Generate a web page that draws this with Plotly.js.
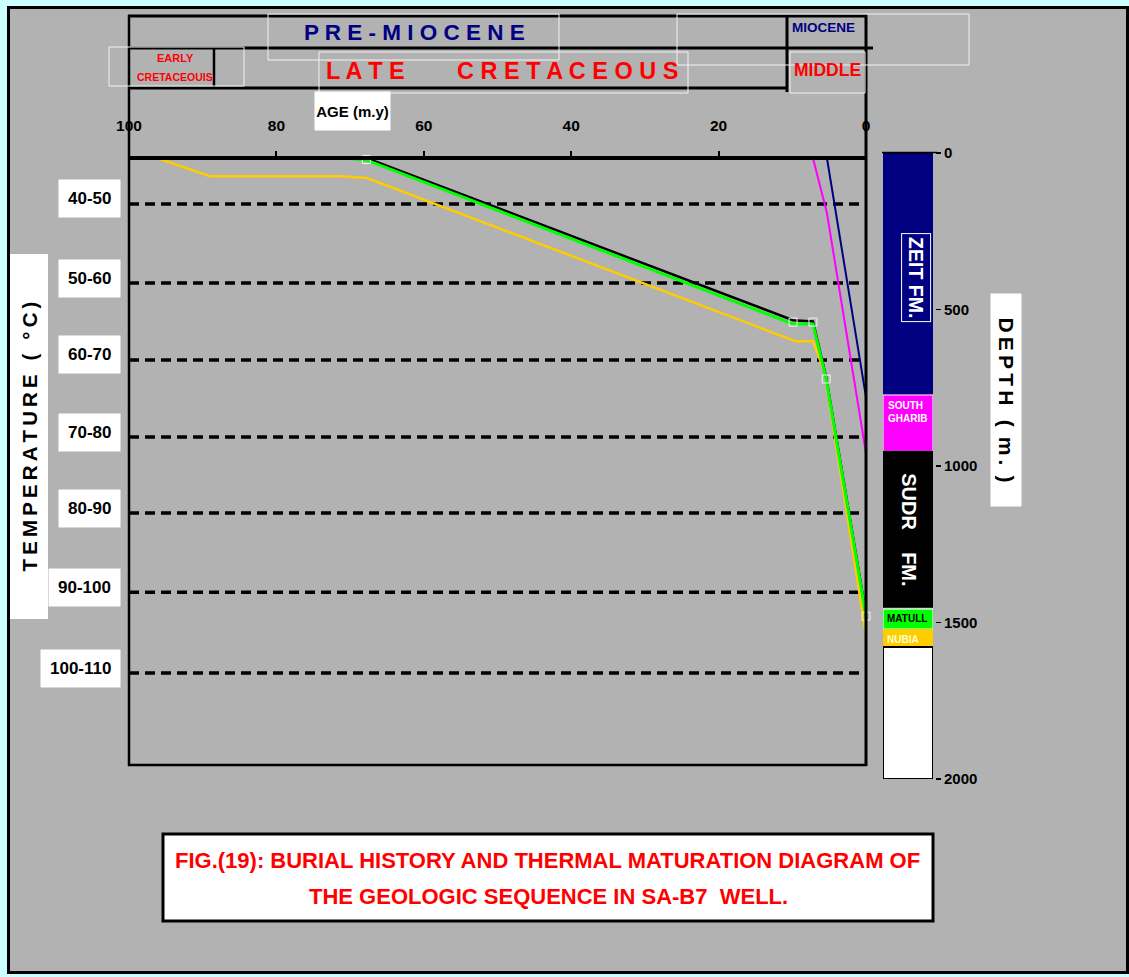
<!DOCTYPE html>
<html>
<head>
<meta charset="utf-8">
<script src="https://cdn.plot.ly/plotly-3.0.1.min.js"></script>
<style>html,body{margin:0;padding:0;background:#ccffff;}#chart{width:1129px;height:977px;}</style>
</head>
<body>
<div id="chart"></div>
<script>
// ---------------- DATA ----------------
const AGE_TICKS = [100, 80, 60, 40, 20, 0];
const DEPTH_TICKS = [0, 500, 1000, 1500, 2000];

// isotherms (depth on burial plot, m) and their temperature labels
const ISO_DEPTHS = [147, 400, 646, 893, 1136, 1389, 1648];
const ISO_LABELS = ['40-50', '50-60', '60-70', '70-80', '80-90', '90-100', '100-110'];

// burial curves: age (m.y) and depth (m)
const NUBIA_AGE   = [96.2, 89.0, 71.1, 67.7, 9.6, 7.2, 5.6, 0];
const NUBIA_DEPTH = [0, 58, 58, 64, 586, 586, 685, 1526];
const MATULL_AGE   = [71.0, 67.8, 9.9, 7.2, 5.4, 0];
const MATULL_DEPTH = [0, 6, 531, 531, 707, 1466];
const SUDR_AGE   = [67.8, 9.9, 7.2, 5.4, 0];
const SUDR_DEPTH = [0, 519, 523, 702, 1460];
const SGHARIB_AGE   = [7.2, 5.3, 0];
const SGHARIB_DEPTH = [0, 176, 944];
const ZEIT_AGE   = [5.3, 0];
const ZEIT_DEPTH = [0, 765];
// control points (markers)
const PT_AGE   = [67.8, 9.9, 7.2, 5.4, 0];
const PT_DEPTH = [5, 525, 525, 707, 1466];

// formation column (depth m)
const FM_NAMES  = ['ZEIT FM.', 'SOUTH<br>GHARIB', 'SUDR    FM.', 'MATULL', 'NUBIA', ''];
const FM_TOP    = [0, 773, 953, 1457, 1521, 1578];
const FM_BOTTOM = [773, 953, 1451, 1521, 1578, 2000];
const FM_COLORS = ['#000080', '#ff00ff', '#000000', '#00ff00', '#ffcc00', '#ffffff'];

// ---------------- HELPERS ----------------
const W = 1129, H = 977;
const px = x => x / W;
const py = y => 1 - y / H;
const SANS = "'Liberation Sans', Arial, sans-serif";
const bold = (size, color) => ({family: SANS, size: size, color: color || '#000', weight: 'bold'});

// ---------------- TRACES ----------------
const traces = [];
ISO_DEPTHS.forEach(d => traces.push({
  type: 'scatter', mode: 'lines', x: [100, 0], y: [d, d],
  line: {color: '#000', width: 3.5, dash: '10px,6px'}, hoverinfo: 'skip'
}));
traces.push({type: 'scatter', mode: 'lines', x: NUBIA_AGE, y: NUBIA_DEPTH, line: {color: '#ffcc00', width: 2.5}, cliponaxis: false});
traces.push({type: 'scatter', mode: 'lines', x: SUDR_AGE, y: SUDR_DEPTH, line: {color: '#000000', width: 2.5}, cliponaxis: false});
traces.push({type: 'scatter', mode: 'lines', x: MATULL_AGE, y: MATULL_DEPTH, line: {color: '#00ff00', width: 3}, cliponaxis: false});
traces.push({type: 'scatter', mode: 'lines', x: SGHARIB_AGE, y: SGHARIB_DEPTH, line: {color: '#ff00ff', width: 2}, cliponaxis: false});
traces.push({type: 'scatter', mode: 'lines', x: ZEIT_AGE, y: ZEIT_DEPTH, line: {color: '#000080', width: 2}, cliponaxis: false});
traces.push({type: 'scatter', mode: 'markers', x: PT_AGE, y: PT_DEPTH, cliponaxis: false,
  marker: {symbol: 'square-open', size: 8, color: '#f4f4f4', line: {width: 1}}});

// formation column as stacked bars
traces.push({
  type: 'bar', xaxis: 'x2', yaxis: 'y2',
  x: FM_TOP.map(() => 0),
  y: FM_TOP.map((t, i) => FM_BOTTOM[i] - t),
  base: FM_TOP,
  width: FM_TOP.map((t, i) => i === 0 ? 1.1 : 1),
  marker: {color: FM_COLORS,
    line: {color: ['#000', '#fff', '#000', '#fff', '#ffcc00', '#000'], width: [1, 1, 1, 1, 0, 2]}},
  hoverinfo: 'skip'
});

// ---------------- SHAPES ----------------
const hline = (y, x0, x1, w) => ({type: 'line', xref: 'paper', yref: 'paper', x0: px(x0), x1: px(x1), y0: py(y), y1: py(y), line: {color: '#000', width: w}});
const vline = (x, y0, y1, w) => ({type: 'line', xref: 'paper', yref: 'paper', x0: px(x), x1: px(x), y0: py(y0), y1: py(y1), line: {color: '#000', width: w}});
const box = (x0, y0, x1, y1, lc, fill, w) => ({type: 'rect', xref: 'paper', yref: 'paper', x0: px(x0), x1: px(x1), y0: py(y0), y1: py(y1), line: {color: lc, width: w}, fillcolor: fill});

const shapes = [
  Object.assign(box(8.5, 7.5, 1127.5, 972.5, '#000', '#b2b2b2', 3), {layer: 'below'}),
  hline(16, 128, 867, 3), hline(48, 128, 873, 3), hline(88, 128, 788, 3),
  vline(129, 15, 766, 2.5), vline(787, 15, 92, 3), vline(866, 15, 766, 3), vline(214, 47, 87, 2.5),
  hline(158, 128, 867, 4), hline(765, 128, 867, 2.5),
  box(268, 14, 559, 60, '#f2f2f2', 'rgba(0,0,0,0)', 1),
  box(677, 14, 969, 65, '#f2f2f2', 'rgba(0,0,0,0)', 1),
  box(319, 52, 688, 93, '#f2f2f2', 'rgba(0,0,0,0)', 1),
  box(109, 47, 244, 86, '#f2f2f2', 'rgba(0,0,0,0)', 1),
  box(790, 52, 865, 93, '#f2f2f2', 'rgba(0,0,0,0)', 1),
  hline(152.5, 882, 937, 1.5),
  box(163, 834, 933, 921, '#000', '#ffffff', 3)
];

// ---------------- ANNOTATIONS ----------------
const ann = [];
const txt = (x, y, text, font, extra) => ann.push(Object.assign({xref: 'paper', yref: 'paper', x: px(x), y: py(y), text: text, showarrow: false, font: font, xanchor: 'center', yanchor: 'middle'}, extra || {}));

txt(414, 33, 'P R E - M I O C E N E', bold(22.5, '#000080'));
txt(502, 71, 'L A T E        C R E T A C E O U S', bold(23.5, '#ff0000'));
txt(823, 28, 'MIOCENE', bold(13.5, '#000080'));
txt(827, 70, 'MIDDLE', bold(17.5, '#ff0000'));
txt(175, 58, 'EARLY', bold(11, '#ff0000'));
txt(175, 77, 'CRETACEOUIS', bold(10.5, '#ff0000'));
txt(352, 111, 'AGE (m.y)', bold(15, '#000'), {bgcolor: '#ffffff', width: 73, height: 36});

// temperature labels, tied to isotherm depths
ISO_LABELS.forEach((l, i) => ann.push({xref: 'paper', yref: 'y', x: px(121), y: ISO_DEPTHS[i], yshift: 5,
  text: l, showarrow: false, font: bold(17, '#000'), xanchor: 'right', yanchor: 'middle',
  bgcolor: '#ffffff', borderpad: 9}));

txt(28.5, 437, 'T\u2009E\u2009M\u2009P\u2009E\u2009R\u2009A\u2009T\u2009U\u2009R\u2009E\u2009 \u2009(\u2009 \u2009\u00b0\u2009C\u2009)', bold(20.5),
  {textangle: -90, bgcolor: '#ffffff', width: 362, height: 35});
txt(1006, 400, 'D\u2009E\u2009P\u2009T\u2009H\u2009 \u2009(\u2009 m\u2009.\u2009 )', bold(21),
  {textangle: 90, bgcolor: '#ffffff', width: 210, height: 28});

// formation labels (in column coordinates)
const mid = i => (FM_TOP[i] + FM_BOTTOM[i]) / 2;
ann.push({xref: 'x2', yref: 'y2', x: 0.16, y: mid(0) + 10, text: FM_NAMES[0], textangle: 90, showarrow: false,
  font: bold(19.5, '#ffffff'), bordercolor: '#ffffff', borderwidth: 1, borderpad: 3});
ann.push({xref: 'x2', yref: 'y2', x: -0.44, y: FM_TOP[1] + 10, text: FM_NAMES[1], showarrow: false, xanchor: 'left', yanchor: 'top',
  align: 'left', font: bold(10, '#ffffff')});
ann.push({xref: 'x2', yref: 'y2', x: 0.02, y: mid(2), text: FM_NAMES[2], textangle: 90, showarrow: false,
  font: bold(20, '#ffffff')});
ann.push({xref: 'x2', yref: 'y2', x: -0.46, y: mid(3) - 2, text: FM_NAMES[3], showarrow: false, xanchor: 'left',
  font: bold(10, '#000000')});
ann.push({xref: 'x2', yref: 'y2', x: -0.46, y: mid(4) + 5, text: FM_NAMES[4], showarrow: false, xanchor: 'left',
  font: bold(10, '#ffffcc')});

// caption
txt(547, 860, 'FIG.(19): BURIAL HISTORY AND THERMAL MATURATION DIAGRAM OF', bold(22, '#ff0000'));
txt(548, 896, 'THE GEOLOGIC SEQUENCE IN SA-B7  WELL.', bold(22, '#ff0000'));

// ---------------- LAYOUT ----------------
const layout = {
  width: W, height: H, margin: {l: 0, r: 0, t: 0, b: 0, pad: 0},
  paper_bgcolor: '#ccffff', plot_bgcolor: 'rgba(0,0,0,0)', showlegend: false,
  barmode: 'overlay', bargap: 0,
  xaxis: {domain: [px(129), px(866)], range: [100, 0], side: 'top', anchor: 'y',
    tickvals: AGE_TICKS, ticktext: AGE_TICKS.map(String), ticks: 'outside', ticklen: 6, tickwidth: 2, tickcolor: '#000',
    showgrid: false, zeroline: false, showline: false, tickfont: bold(15.5, '#000'), ticklabelstandoff: 14, fixedrange: true},
  yaxis: {domain: [py(765), py(158)], range: [1942, 0], visible: false, fixedrange: true},
  xaxis2: {domain: [px(883), px(933)], range: [-0.5, 0.5], anchor: 'y2', visible: false, fixedrange: true},
  yaxis2: {domain: [py(779), py(153)], range: [2000, 0], anchor: 'free', position: px(935), side: 'right',
    tickvals: DEPTH_TICKS, ticks: 'outside', ticklen: 5, tickwidth: 1.5, tickcolor: '#000',
    showgrid: false, zeroline: false, showline: false, tickfont: bold(15, '#000'), fixedrange: true},
  shapes: shapes, annotations: ann
};

Plotly.newPlot('chart', traces, layout, {staticPlot: true, displayModeBar: false});
</script>
</body>
</html>
